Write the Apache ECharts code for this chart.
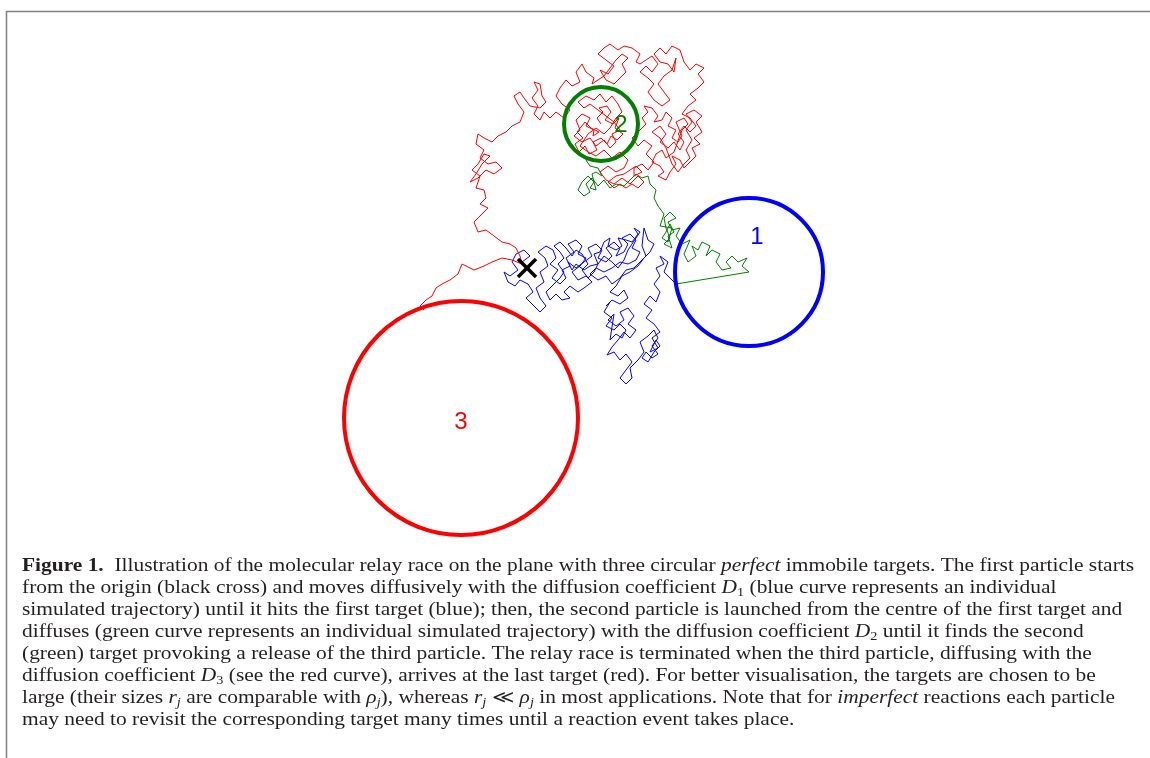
<!DOCTYPE html>
<html>
<head>
<meta charset="utf-8">
<script src="https://cdn.jsdelivr.net/npm/echarts@6/dist/echarts.min.js"></script>
<style>
  html, body { margin: 0; padding: 0; background: #fff; }
  #chart { width: 1150px; height: 758px; }
</style>
</head>
<body>
<div id="chart"></div>
<script>
// plane coordinates, origin at the start point (black cross), y pointing up
var startPoint = [0, 0];

// targets: centre, radius, label position
var targetNames = ['1', '2', '3'];
var targetColors = ['#0000ff', '#008000', '#ff0000'];
var targetCentres = [[222, -4], [74, 144], [-66, -150]];
var targetRadii = [74, 37, 117];
var targetLabelPos = [[230, 31], [94, 143], [-66, -154]];

// particle 1 (blue), from the origin to target 1
var blueTrack = [
  [0,0],[-5,6],[3,12],[-3,18],[-11,14],[-15,6],[-9,-2],[-17,-8],[-23,-4],[-19,-14],
  [-12,-18],[-7,-12],[1,-16],[6,-24],[-1,-30],[5,-36],[13,-44],[19,-38],[13,-30],[9,-20],
  [17,-14],[13,-4],[21,2],[18,10],[11,16],[19,22],[26,18],[29,10],[23,4],[31,-2],
  [25,-10],[33,-16],[39,-10],[35,-2],[43,2],[39,10],[47,16],[41,24],[49,28],[55,22],
  [51,14],[59,10],[53,2],[45,-4],[51,-12],[59,-8],[65,-14],[57,-20],[51,-24],[43,-18],
  [37,-24],[43,-30],[35,-32],[29,-26],[23,-32],[19,-24],[25,-18],[33,-10],
  [37,-4],[31,4],[37,10],[33,16],[27,22],[33,26],[39,20],[45,12],[49,18],[55,14],
  [61,4],[55,-2],[61,-10],[67,-4],[71,4],[67,14],[73,16],[77,26],[83,30],[81,22],
  [89,18],[95,22],[91,30],[99,28],[105,26],[111,34],[107,40],[113,36],[101,18],[97,8],
  [91,0],[85,6],[77,12],[71,4],[63,2],[57,-2],[49,4],[45,-2],
  [41,6],[49,0],
  [57,6],[65,12],[61,20],[69,24],[75,18],[71,10],[79,6],[85,12],[79,20],[87,26],
  [93,20],[89,12],[97,16],[101,24],[95,30],[103,34],[109,28],[105,20],[113,16],[109,8],
  [101,4],[93,6],[85,0],[77,-4],[69,0],[63,-6],[71,-12],[79,-8],[85,-16],[93,-10],
  [99,-2],[107,0],[113,6],[119,12],[115,22],[117,40],[121,28],[127,24],[123,16],[117,10],
  [111,2],[103,-4],[95,-8],[89,-18],[83,-24],[91,-28],[97,-22],[101,-30],[93,-36],[85,-32],
  [79,-38],[83,-34],[77,-44],[85,-50],[79,-58],[87,-62],[93,-56],[99,-62],[95,-70],[89,-66],
  [83,-72],[87,-46],
  [87,-44],[81,-52],[89,-58],[97,-52],[93,-44],[101,-40],[107,-48],[101,-56],[109,-62],
  [103,-70],[97,-64],[91,-72],[85,-79],[80,-87],[87,-84],[93,-92],[99,-86],[105,-94],[99,-102],
  [93,-110],[99,-116],[105,-110],[103,-100],[111,-92],[117,-84],[113,-74],[121,-68],
  [127,-62],[131,-70],[125,-78],[131,-86],[125,-90],[119,-84],[115,-90],[121,-94],[127,-84],[133,-78],
  [129,-72],[127,-76],[123,-84],
  [131,-80],[125,-70],[133,-64],[127,-56],[119,-50],[125,-42],[117,-36],[123,-28],[129,-34],[133,-24],
  [127,-16],[133,-8],[129,0],[137,4],[133,12],[141,6],[137,-4],[143,-10],[149,-16]
];

// particle 2 (green), from target 1 to target 2
var greenTrack = [
  [149,-16],[222,-4],[215,2],[220,10],[211,6],[205,12],[199,6],[204,0],[195,-2],[189,6],
  [193,14],[185,18],[179,12],[183,22],[175,26],[171,18],[165,22],[169,12],[161,6],[157,14],
  [163,28],[155,24],[149,32],[153,40],[145,38],[141,46],[149,50],[143,56],[137,50],[139,40],
  [143,30],[137,24],[145,20],[141,32],[147,36],[143,44],[139,36],[135,30],[141,26],[145,40],
  [133,42],[137,54],[131,62],[127,70],[129,78],[123,84],
  [121,92],[115,90],[109,94],[103,88],[97,82],[89,84],[83,80],[77,88],[71,82],[65,90],
  [59,84],[63,76],[57,72],[51,78],[55,86],[61,92],[67,86],[63,80],[69,78],[65,94],
  [69,96],[75,92],[71,100],[63,102],[59,108]
];

// particle 3 (red), from target 2 to target 3
var redTrack = [
  [74,144],[70,150],[76,156],[72,160],[80,162],[84,156],[78,148],[86,144],[92,150],[88,140],
  [96,134],[90,128],[84,132],[80,124],[74,130],[66,126],[70,118],[62,114],[58,122],[52,116],
  [48,124],[56,130],[50,136],[58,146],[64,140],[72,136],[66,132],
  [67,138],[59,142],[63,150],[55,154],[49,148],[53,138],[47,132],[55,126],[63,130],
  [69,122],[77,128],[83,120],[89,126],[85,134],[93,138],[87,146],[79,152],[71,158],[63,164],
  [57,160],[51,166],[59,172],[67,168],[73,174],[79,166],[85,172],[91,164],[95,156],[89,150],
  [83,140],[77,134],[69,140],[61,134],[53,122],[61,116],[69,112],[77,118],[85,110],[93,116],
  [101,108],[97,100],[89,96],[81,102],[73,96],[79,88],[87,84],[95,90],[103,84],[111,92],
  [117,86],[111,80],[105,84],[99,80],[93,84],[87,80],[81,86],[89,92],[97,94],[103,98],
  [109,102],[115,96],[107,92],
  [107,100],[115,104],[121,98],[127,106],[119,114],[125,122],[117,128],[111,122],[105,130],[113,138],
  [119,144],
  [115,150],[121,156],[117,162],[125,160],[131,152],[127,146],[135,148],[139,156],[145,150],[141,142],
  [149,138],[145,130],[151,126],[155,132],[149,146],[157,150],[161,144],[155,138],[147,116],[139,110],
  [135,118],[129,114],[125,106],[133,102],[137,96],[131,92],[139,88],[143,96],[149,104],[145,112],
  [153,108],[157,100],
  [163,106],[169,112],[165,120],[173,124],[167,130],[175,136],[169,146],[175,152],[167,158],[159,154],
  [165,146],[159,138],[165,128],[159,118],[163,110],[157,104],
  [151,96],[145,104],[139,120],[133,130],
  [125,136],[133,142],[139,134],[133,126],[141,120],[147,126],[153,118],[157,126],[151,134],
  [157,142],[163,136],[169,142],[163,150],[155,154],[161,162],[169,168],[163,174],[171,180],[177,186],
  [171,194],[177,200],[169,204],[163,198],[157,206],[153,218],
  [145,222],[139,214],[133,220],[127,214],[133,206],[141,204],[147,196],
  [149,210],[145,198],[137,192],[131,184],
  [137,176],[143,168],[135,162],[127,168],[121,176],[127,184],[121,190],[113,196],
  [119,202],[125,196],[131,204],[125,212],[119,208],[113,204],
  [109,206],[113,214],[105,220],[97,222],[91,218],[83,224],[77,220],[71,214],[79,208],[87,202],
  [81,194],[73,198],
  [79,188],[87,184],[93,190],[99,196],[95,204],[101,210],[95,214],[89,208],[83,200],[77,192],
  [71,188],[65,184],
  [67,190],[59,196],[55,204],[49,196],[53,186],[45,182],[39,188],[33,180],[29,172],[35,164],
  [43,158],[37,150],[29,156],[23,150],[17,156],[13,148],[7,154],
  [11,162],[5,170],[11,178],[7,186],[13,184],[15,172],[19,166],[13,160],
  [3,162],[-3,170],[-7,176],[-13,172],[-9,164],[-3,156],[-7,146],[-15,142],[-21,136],[-29,132],
  [-35,126],[-43,130],[-49,134],[-51,124],[-43,118],[-47,110],[-39,104],[-31,106],[-25,100],[-33,94],
  [-41,98],[-49,90],[-57,86],
  [-51,94],[-45,104],[-37,112],[-43,114],[-49,104],[-55,98],[-47,92],
  [-51,80],[-43,78],[-41,70],[-47,64],[-39,60],[-47,52],[-53,46],[-49,36],[-41,38],[-33,32],
  [-25,26],[-17,24],[-11,20],[-7,12],[-5,4],[-15,8],[-25,10],[-35,6],[-43,2],[-53,-2],
  [-65,4],[-69,-6],[-77,-12],[-85,-16],[-91,-20],[-95,-28],[-101,-32],[-107,-38],[-103,-42]
];

var captionLines = [
  '{b|Figure 1.}  Illustration of the molecular relay race on the plane with three circular {i|perfect} immobile targets. The first particle starts',
  'from the origin (black cross) and moves diffusively with the diffusion coefficient {i|D}{s|1} (blue curve represents an individual',
  'simulated trajectory) until it hits the first target (blue); then, the second particle is launched from the centre of the first target and',
  'diffuses (green curve represents an individual simulated trajectory) with the diffusion coefficient {i|D}{s|2} until it finds the second',
  '(green) target provoking a release of the third particle. The relay race is terminated when the third particle, diffusing with the',
  'diffusion coefficient {i|D}{s|3} (see the red curve), arrives at the last target (red). For better visualisation, the targets are chosen to be',
  'large (their sizes {i|r}{si|j} are comparable with {i|ρ}{si|j}), whereas {i|r}{si|j} ≪ {i|ρ}{si|j} in most applications. Note that for {i|imperfect} reactions each particle',
  'may need to revisit the corresponding target many times until a reaction event takes place.'
];

var chart = echarts.init(document.getElementById('chart'));

var targetData = targetCentres.map(function (c, i) {
  return [c[0], c[1], targetRadii[i], targetLabelPos[i][0], targetLabelPos[i][1], i];
});

function trackSeries(data, color) {
  return {
    type: 'line',
    data: data,
    showSymbol: false,
    silent: true,
    lineStyle: { color: color, width: 1 },
    z: 2
  };
}

var captionFont = '"Liberation Serif", "Times New Roman", serif';

chart.setOption({
  animation: false,
  backgroundColor: '#fff',
  grid: { left: 0, right: 0, top: 0, bottom: 0 },
  xAxis: { type: 'value', min: -527, max: 623, show: false },
  yAxis: { type: 'value', min: -490, max: 268, show: false },
  series: [
    trackSeries(blueTrack, '#0000ff'),
    trackSeries(greenTrack, '#008000'),
    trackSeries(redTrack, '#ff0000'),
    {
      type: 'custom',
      data: targetData,
      silent: true,
      z: 3,
      renderItem: function (params, api) {
        var i = api.value(5);
        var c = api.coord([api.value(0), api.value(1)]);
        var r = api.size([api.value(2), 0])[0];
        var lp = api.coord([api.value(3), api.value(4)]);
        return {
          type: 'group',
          children: [
            { type: 'circle', shape: { cx: c[0], cy: c[1], r: r },
              style: { fill: 'none', stroke: targetColors[i], lineWidth: 4 } },
            { type: 'text', x: lp[0], y: lp[1],
              style: { text: targetNames[i], fill: targetColors[i],
                font: '24px "Liberation Sans", Arial, sans-serif',
                align: 'center', verticalAlign: 'middle' } }
          ]
        };
      }
    },
    {
      type: 'custom',
      data: [startPoint],
      silent: true,
      z: 4,
      renderItem: function (params, api) {
        var p = api.coord([api.value(0), api.value(1)]);
        var h = 9;
        var st = { stroke: '#000', lineWidth: 3.5 };
        return {
          type: 'group',
          children: [
            { type: 'line', shape: { x1: p[0] - h, y1: p[1] - h, x2: p[0] + h, y2: p[1] + h }, style: st },
            { type: 'line', shape: { x1: p[0] - h, y1: p[1] + h, x2: p[0] + h, y2: p[1] - h }, style: st }
          ]
        };
      }
    }
  ],
  graphic: [
    {
      type: 'polyline',
      silent: true,
      shape: { points: [[6.5, 758], [6.5, 11.5], [1150, 11.5]] },
      style: { stroke: '#808080', lineWidth: 1.5, fill: null }
    },
    {
      type: 'text',
      x: 22,
      y: 555,
      scaleX: 1.19,
      silent: true,
      style: {
        text: captionLines.join('\n'),
        font: '18px ' + captionFont,
        fill: '#231f20',
        lineHeight: 22,
        verticalAlign: 'top',
        rich: {
          b: { fontFamily: captionFont, fontSize: 18, fontWeight: 'bold', lineHeight: 22, fill: '#231f20' },
          i: { fontFamily: captionFont, fontSize: 18, fontStyle: 'italic', lineHeight: 22, fill: '#231f20' },
          s: { fontFamily: captionFont, fontSize: 12, lineHeight: 22, verticalAlign: 'bottom', fill: '#231f20' },
          si: { fontFamily: captionFont, fontSize: 12, fontStyle: 'italic', lineHeight: 22, verticalAlign: 'bottom', fill: '#231f20' }
        }
      }
    }
  ]
});
</script>
</body>
</html>
